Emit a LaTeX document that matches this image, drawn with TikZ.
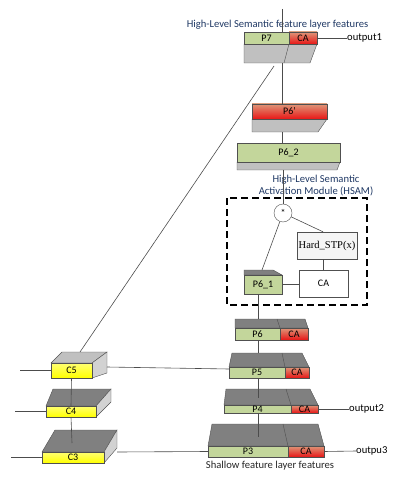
\documentclass[tikz,border=0pt]{standalone}
\usepackage{fontspec}
\setmainfont{Carlito}
\newfontfamily\timesfont{Liberation Serif}
\usetikzlibrary{calc}

\definecolor{facegreen}{RGB}{195,214,155}
\definecolor{edgegray}{RGB}{80,80,80}
\definecolor{lightgray}{RGB}{192,192,192}
\definecolor{darkgray}{RGB}{128,128,128}
\definecolor{sidegray}{RGB}{210,210,210}
\definecolor{titleblue}{RGB}{31,56,100}
\definecolor{tanred}{RGB}{222,150,120}
\definecolor{deepred}{RGB}{232,22,22}

\newcommand{\lbl}{\fontsize{10}{11}\selectfont}

\tikzset{
  face/.style={draw=edgegray, inner sep=0pt, outer sep=0pt, font=\lbl},
  gface/.style={face, fill=facegreen},
  caface/.style={face, top color=tanred, bottom color=deepred},
  yface/.style={face, top color=yellow!55!white, bottom color=yellow},
  ltop/.style={draw=edgegray, fill=lightgray},
  dtop/.style={draw=edgegray, fill=darkgray},
  side/.style={draw=edgegray, fill=sidegray},
  wbox/.style={draw=edgegray, fill=white, inner sep=0pt, font=\lbl},
  dashbox/.style={draw=black, line width=1.3pt, dash pattern=on 7pt off 4pt},
  link/.style={draw=black!70, line width=0.6pt},
  caption/.style={font=\fontsize{10.6}{12}\selectfont, text=titleblue, inner sep=0pt}
}

\begin{document}
\begin{tikzpicture}[x=1pt,y=-1pt]
\useasboundingbox (0,0) rectangle (408,478);

% gray parts of the blocks
\filldraw[ltop] (244,44) -- (317,44) -- (310,63) -- (244,63) -- cycle; % P7
\draw[edgegray] (289,44) -- (284,63);
\filldraw[ltop] (252,119) -- (327,119) -- (318,132) -- (252,132) -- cycle; % P6'
\filldraw[ltop] (237,162) -- (340,162) -- (337,170) -- (237,170) -- cycle; % P6_2
\filldraw[dtop] (244,270) -- (273,270) -- (282,275) -- (244,275) -- cycle; % P6_1
\filldraw[dtop] (235,319) -- (305,319) -- (308,328) -- (235,328) -- cycle; % P6
\draw[edgegray] (277,319) -- (280,328);
\filldraw[dtop] (232,353) -- (302,353) -- (309,367) -- (229,367) -- cycle; % P5
\draw[edgegray] (282,353) -- (285,367);
\filldraw[dtop] (226,389) -- (310,389) -- (318,405) -- (224,405) -- cycle; % P4
\draw[edgegray] (286,389) -- (291,405);
\filldraw[dtop] (212,424) -- (318,424) -- (324,446) -- (208,446) -- cycle; % P3
\draw[edgegray] (283,424) -- (288,446);

% C blocks (top and side)
\filldraw[ltop] (51,363) -- (62,352) -- (107,352) -- (92,363) -- cycle;
\filldraw[side] (92,363) -- (107,352) -- (107,373) -- (92,378) -- cycle;
\filldraw[dtop] (46,406) -- (53,389) -- (111,389) -- (96,406) -- cycle;
\filldraw[side] (96,406) -- (111,389) -- (111,402) -- (96,417) -- cycle;
\filldraw[dtop] (42,452) -- (55,430) -- (117,430) -- (104,452) -- cycle;
\filldraw[side] (104,452) -- (117,430) -- (117,448) -- (104,463) -- cycle;

% faces
\node[gface, minimum width=45pt, minimum height=12pt] (p7) at (266.5,38) {P7};
\node[caface, minimum width=28pt, minimum height=12pt] (ca7) at (303,38) {CA};
\node[caface, minimum width=75pt, minimum height=15pt] (p6p) at (289.5,111.5) {P6'};
\node[gface, minimum width=103pt, minimum height=19pt] (p62) at (288.5,152.5) {P6\_2};
\node[gface, minimum width=38pt, minimum height=19pt] (p61) at (263,284.5) {P6\_1};
\node[gface, minimum width=45pt, minimum height=12pt] (p6) at (257.5,334) {P6};
\node[caface, minimum width=28pt, minimum height=12pt] (ca6r) at (294,334) {CA};
\node[gface, minimum width=56pt, minimum height=11pt] (p5) at (257,372.5) {P5};
\node[caface, minimum width=24pt, minimum height=11pt] (ca5) at (297,372.5) {CA};
\node[gface, minimum width=67pt, minimum height=8pt] (p4) at (257.5,409) {P4};
\node[caface, minimum width=27pt, minimum height=8pt] (ca4) at (304.5,409) {CA};
\node[gface, minimum width=80pt, minimum height=11pt] (p3) at (248,451.5) {P3};
\node[caface, minimum width=36pt, minimum height=11pt] (ca3) at (306,451.5) {CA};
\node[yface, minimum width=41pt, minimum height=15pt] (c5) at (71.5,370.5) {C5};
\node[yface, minimum width=50pt, minimum height=11pt] (c4) at (71,411.5) {C4};
\node[yface, minimum width=62pt, minimum height=11pt] (c3) at (73,457.5) {C3};

% HSAM
\draw[dashbox] (227,198) rectangle (367,305);
\node[wbox, circle, minimum size=18pt] (mul) at (283,213) {*};
\node[wbox, fill=black!4, minimum width=60pt, minimum height=27pt, font=\timesfont\fontsize{10.5}{11}\selectfont] (hard) at (327,245.5) {Hard\_STP(x)};
\node[wbox, minimum width=49pt, minimum height=27pt] (ca6) at (323.5,283.5) {CA};

% texts
\node[caption] (ttop) at (277.5,25) {High-Level Semantic feature layer features};
\node[caption] (hsam1) at (316,180) {High-Level Semantic};
\node[caption] (hsam2) at (316,191) {Activation Module (HSAM)};
\node[caption, text=black!85] (tbot) at (270,466) {Shallow feature layer features};
\node[caption, text=black, anchor=west] (out1) at (347,38) {output1};
\node[caption, text=black, anchor=west] (out2) at (349,409) {output2};
\node[caption, text=black, anchor=west] (out3) at (356,451) {outpu3};

% line ends
\coordinate (top) at (282,9);
\coordinate (p7bot) at (282,63);
\coordinate (p7diag) at (274,66);
\coordinate (c5top) at (80,352);
\coordinate (p6pbot) at (282,132);
\coordinate (p62bot) at (283,170);
\coordinate (p61top) at (262,270);
\coordinate (p61bot) at (258,294);
\coordinate (p6top) at (258,319);
\coordinate (p5top) at (258,353);
\coordinate (p4in) at (258,398);
\coordinate (p3in) at (258,437);
\coordinate (c3top) at (72,443);
\coordinate (c5r) at (107,367);
\coordinate (c3r) at (117,452);
\coordinate (in5) at (20,370.5);
\coordinate (in4) at (15,411.5);
\coordinate (in3) at (11,457.5);

% connectors
\draw[link] (top) -- (top |- p7.north);
\draw[link] (p7bot) -- (p7bot |- p6p.north);
\draw[link] (p6pbot) -- (p6pbot |- p62.north);
\draw[link] (p62bot) -- (mul.north);
\draw[link] (p7diag) -- (c5top);
\draw[link] (mul) -- (p61top);
\draw[link] (mul) -- ($(hard.north)+(-4,0)$);
\draw[link] (ca6.north) -- (ca6.north |- hard.south);
\draw[link] (p61.east) -- (p61.east -| ca6.west);
\draw[link] (p61bot) -- (p6top);
\draw[link] (p6top |- p6.south) -- (p5top);
\draw[link] (p5top |- p5.south) -- (p4in);
\draw[link] (p4in |- p4.south) -- (p3in);
\draw[link] (c5r) -- ([yshift=-2pt]p5.north west);
\draw[link] (c3r) -- (p3.west);
\draw[link] (c5.south) -- (c4.north);
\draw[link] (c4.south) -- (c3top);
\draw[link] (in5) -- (c5.west);
\draw[link] (in4) -- (c4.west);
\draw[link] (in3) -- (c3.west);
\draw[link] (ca7.east) -- (out1.west);
\draw[link] (ca4.east) -- (out2.west);
\draw[link] (ca3.east) -- (out3.west);
\end{tikzpicture}
\end{document}
